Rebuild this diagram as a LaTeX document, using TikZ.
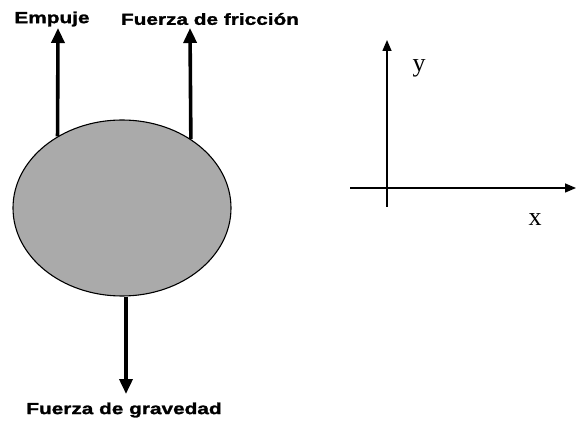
\documentclass[tikz,border=0pt]{standalone}
\usepackage{fontspec}
\setmainfont{Liberation Serif}
\newfontfamily\lblfont[FakeStretch=1.3,FakeBold=1.5]{Liberation Sans Bold}
\usetikzlibrary{arrows.meta,shapes.geometric}
\tikzset{
  force/.style={line width=3.6pt,-{Triangle[width=13pt,length=15pt]}},
  axis/.style={line width=1.5pt,-{Triangle[width=9pt,length=11pt]}},
  flabel/.style={font=\lblfont\fontsize{16pt}{19pt}\selectfont,inner sep=0pt},
  alabel/.style={font=\fontsize{26pt}{30pt}\selectfont,inner sep=0pt}
}
\begin{document}
\begin{tikzpicture}[x=1pt,y=1pt]
\useasboundingbox (0,0) rectangle (576,421);
\node[ellipse,draw,line width=1.1pt,fill={rgb,255:red,170;green,170;blue,170},minimum width=218pt,minimum height=176pt,inner sep=0pt] (body) at (122,213) {};
\coordinate (t1) at (58,393);
\coordinate (t2) at (190,393);
\coordinate (t3) at (126,27);
\draw[force] (body.132) -- (t1);
\draw[force] (body.45.4) -- (t2);
\draw[force] (body.south) ++(4,0) coordinate (s3) (s3) -- (t3);
\node[flabel] (lemp) at (52,402) {Empuje};
\node[flabel] (lfri) at (210,402) {Fuerza de fricción};
\node[flabel] (lgra) at (124,11) {Fuerza de gravedad};
\coordinate (yb) at (387,214);
\coordinate (yt) at (387,381);
\coordinate (xl) at (350,233);
\coordinate (xr) at (576,233);
\draw[axis] (yb) -- (yt);
\draw[axis] (xl) -- (xr);
\node[alabel] (ly) at (419,353) {y};
\node[alabel] (lx) at (535,201) {x};
\end{tikzpicture}
\end{document}
